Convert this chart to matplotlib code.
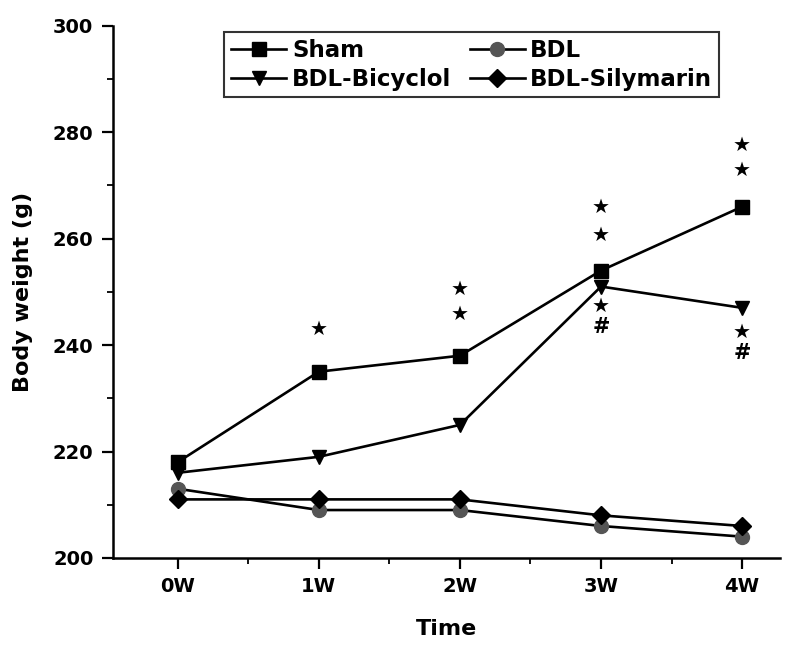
import matplotlib
matplotlib.use("Agg")
import matplotlib.pyplot as plt
from matplotlib.ticker import MultipleLocator

plt.rcParams.update({"font.family": "DejaVu Sans", "font.weight": "bold",
                     "axes.labelweight": "bold"})

# datos
SEMANAS = ["0W", "1W", "2W", "3W", "4W"]
SHAM = [218, 235, 238, 254, 266]
BDL = [213, 209, 209, 206, 204]
BICYCLOL = [216, 219, 225, 251, 247]
SILYMARIN = [211, 211, 211, 208, 206]

# marcas de significación: (semana, y, texto)
MARCAS = [(1, 242.9, "★"),
          (2, 250.4, "★"), (2, 245.7, "★"),
          (3, 265.8, "★"), (3, 260.7, "★"), (3, 247.2, "★"), (3, 243.4, "#"),
          (4, 277.6, "★"), (4, 272.9, "★"), (4, 242.3, "★"), (4, 238.5, "#")]

fig = plt.figure(figsize=(8.06, 6.45), dpi=100)
ax = fig.add_axes([0.140, 0.135, 0.828, 0.825])

x = range(len(SEMANAS))
kw = dict(color="black", linewidth=1.9, markersize=10)
l_sham, = ax.plot(x, SHAM, marker="s", label="Sham", **kw)
l_bdl, = ax.plot(x, BDL, marker="o", markerfacecolor="#555555", markeredgecolor="#555555",
                 label="BDL", **kw)
l_bic, = ax.plot(x, BICYCLOL, marker="v", label="BDL-Bicyclol", **kw)
l_sil, = ax.plot(x, SILYMARIN, marker="D", markersize=9, color="black", linewidth=1.9,
                 label="BDL-Silymarin")

for xi, yi, txt in MARCAS:
    ax.text(xi, yi, txt, ha="center", va="center",
            fontsize=14.5 if txt == "★" else 15, fontweight="bold")

ax.set_xlim(-0.46, 4.27)
ax.set_ylim(200, 300)
ax.set_xticks(list(x))
ax.set_xticklabels(SEMANAS)
ax.xaxis.set_minor_locator(MultipleLocator(0.5))
ax.yaxis.set_major_locator(MultipleLocator(20))
ax.yaxis.set_minor_locator(MultipleLocator(10))
ax.tick_params(which="major", length=8, width=1.6, labelsize=14, pad=6)
ax.tick_params(which="minor", length=4, width=1.3)
for s in ("top", "right"):
    ax.spines[s].set_visible(False)
for s in ("left", "bottom"):
    ax.spines[s].set_linewidth(1.8)

ax.set_xlabel("Time", fontsize=16, labelpad=16)
ax.set_ylabel("Body weight (g)", fontsize=16, labelpad=14)

# orden por filas: Sham, BDL / Bicyclol, Silymarin
leg = ax.legend([l_sham, l_bic, l_bdl, l_sil],
                ["Sham", "BDL-Bicyclol", "BDL", "BDL-Silymarin"],
                ncol=2, loc="upper left", bbox_to_anchor=(0.150, 1.01),
                fontsize=16.5, frameon=True, fancybox=False, edgecolor="black",
                handlelength=2.4, columnspacing=0.8, borderpad=0.3,
                labelspacing=0.25, handletextpad=0.25)
leg.get_frame().set_linewidth(1.5)

fig.savefig("out.png", dpi=100)
